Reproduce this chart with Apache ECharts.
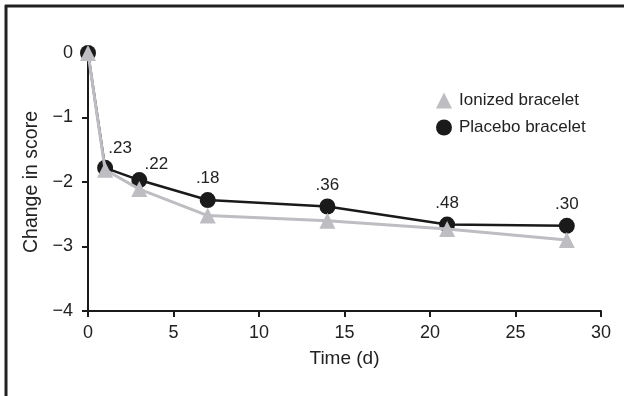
<!DOCTYPE html>
<html>
<head>
<meta charset="utf-8">
<script src="https://cdn.jsdelivr.net/npm/echarts@6/dist/echarts.min.js"></script>
<style>
	html, body { margin: 0; padding: 0; background: #fff; }
	#echart { width: 624px; height: 396px; }
</style>
</head>
<body>
<div id="echart"></div>
<script>
	// 数据
	var days = [0, 1, 3, 7, 14, 21, 28];
	var ionized = [0, -1.81, -2.11, -2.52, -2.6, -2.73, -2.9];
	var placebo = [0, -1.78, -1.97, -2.28, -2.38, -2.66, -2.68];
	var pValues = ['', '.23', '.22', '.18', '.36', '.48', '.30'];

	var font = '"Liberation Sans", Arial, sans-serif';
	var grey = '#bdbdc2';
	var dark = '#1a1a1a';

	function pairs(ys) {
		var out = [];
		for (var i = 0; i < days.length; i++) {
			out.push([days[i], ys[i]]);
		}
		return out;
	}

	// 前两个标签稍微往右挪
	var placeboData = pairs(placebo).map(function (p, i) {
		var item = { value: p };
		if (i === 1) item.label = { offset: [15, 2] };
		if (i === 2) item.label = { offset: [17, 6] };
		return item;
	});

	var myEchart = echarts.init(document.getElementById('echart'));

	var option = {
		animation: false,
		textStyle: { fontFamily: font },
		grid: { left: 88, right: 23, top: 53, bottom: 85 },
		graphic: [
			{ type: 'line', shape: { x1: 5, y1: 6, x2: 624, y2: 6 }, style: { stroke: '#222', lineWidth: 3 } },
			{ type: 'line', shape: { x1: 6, y1: 5, x2: 6, y2: 396 }, style: { stroke: '#222', lineWidth: 3 } }
		],
		legend: {
			orient: 'vertical',
			left: 431,
			top: 87,
			itemWidth: 16,
			itemHeight: 16,
			itemGap: 10,
			data: [
				{ name: 'Ionized bracelet', icon: 'triangle' },
				{ name: 'Placebo bracelet', icon: 'circle' }
			],
			textStyle: { fontFamily: font, fontSize: 17, color: '#222', padding: [0, 0, 0, 2] }
		},
		xAxis: {
			type: 'value',
			min: 0,
			max: 30,
			interval: 5,
			name: 'Time (d)',
			nameLocation: 'middle',
			nameGap: 38,
			nameTextStyle: { fontFamily: font, fontSize: 19, color: '#222' },
			splitLine: { show: false },
			axisLine: { onZero: false, lineStyle: { color: dark, width: 2 } },
			axisTick: { length: 6, lineStyle: { color: dark, width: 2 } },
			axisLabel: { fontSize: 18, color: '#222', margin: 13 }
		},
		yAxis: {
			type: 'value',
			min: -4,
			max: 0,
			interval: 1,
			name: 'Change in score',
			nameLocation: 'middle',
			nameGap: 46,
			nameTextStyle: { fontFamily: font, fontSize: 19.5, color: '#222' },
			splitLine: { show: false },
			axisLine: { onZero: false, lineStyle: { color: dark, width: 2 } },
			axisTick: { length: 6, lineStyle: { color: dark, width: 2 } },
			axisLabel: {
				fontSize: 18,
				color: '#222',
				margin: 15,
				formatter: function (v) {
					return String(v).replace('-', '\u2212');
				}
			}
		},
		series: [
			{
				name: 'Placebo bracelet',
				type: 'line',
				symbol: 'circle',
				symbolSize: 16,
				z: 2,
				itemStyle: { color: dark },
				lineStyle: { color: dark, width: 2.5 },
				label: {
					show: true,
					position: 'top',
					distance: 5,
					fontSize: 17,
					color: '#222',
					formatter: function (p) {
						return pValues[p.dataIndex];
					}
				},
				data: placeboData
			},
			{
				name: 'Ionized bracelet',
				type: 'line',
				symbol: 'triangle',
				symbolSize: [16, 16],
				z: 3,
				itemStyle: { color: grey },
				lineStyle: { color: grey, width: 3 },
				data: pairs(ionized)
			}
		]
	};

	myEchart.setOption(option);
</script>
</body>
</html>
